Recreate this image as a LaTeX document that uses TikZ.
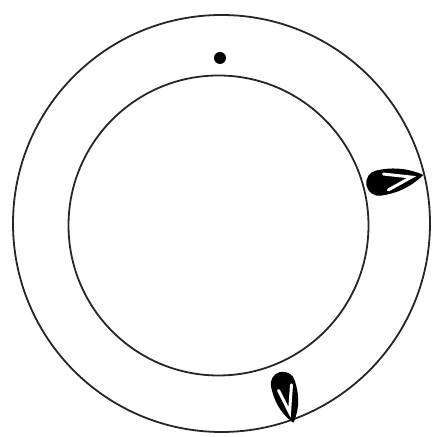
\documentclass[tikz,border=0pt]{standalone}
\begin{document}
\begin{tikzpicture}[x=0.5pt,y=0.5pt,
  ring/.style={draw=black!85,line width=0.9pt},
  dropbody/.style={fill=black,draw=black,line width=0.8pt,line join=round},
  dropmark/.style={draw=white,line width=1.5pt,line join=miter,line cap=round}]
\useasboundingbox[fill=white] (0,0) rectangle (440,437);
% rings
\draw[ring] (221.5,213.5) circle[radius=208.5];
\draw[ring] (218.5,211.5) circle[radius=150];
% dot
\fill (220,379) circle[radius=6];
% right drop
\begin{scope}[shift={(379,254)},rotate=10.3]
  \draw[dropbody] (43.7,0) .. controls (28,10) and (14,12.5) .. (0,12)
     arc[start angle=90,end angle=270,radius=12]
     .. controls (14,-12.5) and (28,-10) .. cycle;
  \draw[dropmark] (6,8) -- (33,0) -- (8,-8.5);
\end{scope}
% bottom drop
\begin{scope}[shift={(283,53)},rotate=-75]
  \draw[dropbody] (39,0) .. controls (26,10) and (13,12) .. (0,11.5)
     arc[start angle=90,end angle=270,radius=11.5]
     .. controls (13,-12) and (26,-10) .. cycle;
  \draw[dropmark] (3,8) -- (29,-1) -- (5,-6);
\end{scope}
\end{tikzpicture}
\end{document}
